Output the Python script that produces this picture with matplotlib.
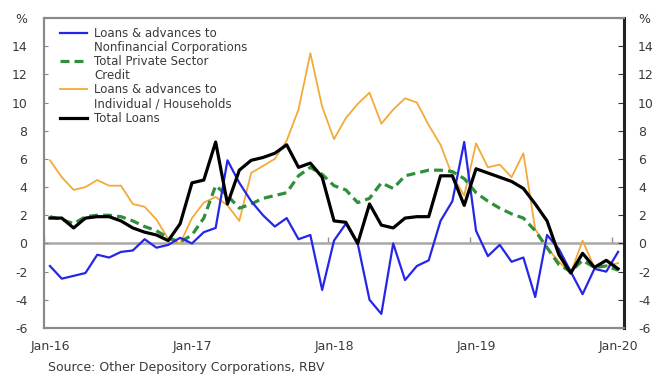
import matplotlib
matplotlib.use("Agg")
import matplotlib.pyplot as plt
from matplotlib.lines import Line2D
import numpy as np
import pandas as pd

# Monthly observations, Jan-2016 .. Jan-2020 (year-on-year growth, %)
months = pd.date_range("2016-01-01", periods=49, freq="MS")

nfc_loans = [-1.6, -2.5, -2.3, -2.1, -0.8, -1.0, -0.6, -0.5, 0.3, -0.3,
             -0.1, 0.4, 0.0, 0.8, 1.1, 5.9, 4.3, 3.0, 2.0, 1.2,
             1.8, 0.3, 0.6, -3.3, 0.2, 1.4, 0.0, -4.0, -5.0, 0.0,
             -2.6, -1.6, -1.2, 1.6, 3.0, 7.2, 0.9, -0.9, -0.1, -1.3,
             -1.0, -3.8, 0.6, -0.4, -2.0, -3.6, -1.8, -2.0, -0.6]

private_credit = [1.9, 1.7, 1.4, 1.9, 2.0, 2.0, 1.9, 1.6, 1.2, 0.9,
                  0.4, 0.1, 0.6, 1.8, 4.1, 3.4, 2.5, 2.8, 3.2, 3.4,
                  3.6, 4.8, 5.4, 4.9, 4.1, 3.8, 2.9, 3.2, 4.3, 3.9,
                  4.8, 5.0, 5.2, 5.2, 5.1, 4.6, 3.6, 3.0, 2.5, 2.1,
                  1.8, 0.9, -0.3, -1.5, -2.0, -1.2, -1.7, -1.6, -1.9]

household_loans = [5.9, 4.7, 3.8, 4.0, 4.5, 4.1, 4.1, 2.8, 2.6, 1.7,
                   0.3, 0.0, 1.8, 2.9, 3.3, 2.7, 1.6, 5.0, 5.5, 6.0,
                   7.3, 9.5, 13.5, 9.7, 7.4, 8.9, 9.9, 10.7, 8.5, 9.5,
                   10.3, 10.0, 8.4, 7.0, 4.8, 3.4, 7.1, 5.4, 5.6, 4.7,
                   6.4, 1.0, -0.3, -1.3, -2.1, 0.2, -1.7, -1.6, -1.4]

total_loans = [1.8, 1.8, 1.1, 1.8, 1.9, 1.9, 1.6, 1.1, 0.8, 0.6,
               0.2, 1.4, 4.3, 4.5, 7.2, 2.8, 5.2, 5.9, 6.1, 6.4,
               7.0, 5.4, 5.7, 4.7, 1.6, 1.5, 0.0, 2.8, 1.3, 1.1,
               1.8, 1.9, 1.9, 4.8, 4.8, 2.7, 5.3, 5.0, 4.7, 4.4,
               3.9, 2.8, 1.6, -0.8, -2.1, -0.7, -1.7, -1.2, -1.8]

y_ticks = [-6, -4, -2, 0, 2, 4, 6, 8, 10, 12, 14, 16]
y_tick_labels = ["-6", "-4", "-2", "0", "2", "4", "6", "8", "10", "12", "14", "%"]

source_note = "Source: Other Depository Corporations, RBV"

plt.rcParams["font.family"] = ["DejaVu Sans"]
text_color = "#3a3a3a"

fig = plt.figure(figsize=(6.62, 3.78), dpi=100)
ax = fig.add_axes([0.0665, 0.1323, 0.8761, 0.8201])

x = np.arange(len(months))

ax.plot(x, nfc_loans, color="#2626e6", lw=1.6, zorder=4)
ax.plot(x, private_credit, color="#2f8f3a", lw=2.3,
        linestyle=(0, (2.8, 1.6)), zorder=3)
ax.plot(x, household_loans, color="#f2aa3a", lw=1.3, zorder=2)
ax.plot(x, total_loans, color="black", lw=2.3, zorder=5)

ax.set_xlim(-0.5, 48.5)
ax.set_ylim(-6, 16)

# Year labels centred on January; ticks sit on category boundaries
jan_idx = [i for i, d in enumerate(months) if d.month == 1]
year_labels = [d.strftime("%b-%y") for d in months if d.month == 1]
ax.set_xticks(jan_idx)
ax.set_xticklabels(year_labels, fontsize=9, color=text_color)
ax.tick_params(axis="x", length=0, pad=9)

# Zero line with small year ticks on it
zero_axis = ax.secondary_xaxis(6 / 22)
zero_axis.set_xticks([i - 0.5 for i in jan_idx])
zero_axis.set_xticklabels([])
zero_axis.tick_params(direction="in", length=4, color="#909090", width=1)
zero_axis.spines["bottom"].set_color("#a8a8a8")
zero_axis.spines["bottom"].set_linewidth(1.8)

ax.set_yticks(y_ticks)
ax.set_yticklabels(y_tick_labels, fontsize=9, color=text_color)
ax.tick_params(axis="y", direction="in", length=3, color="#888888", pad=12)

ax2 = ax.twinx()
ax2.set_ylim(ax.get_ylim())
ax2.set_yticks(y_ticks)
ax2.set_yticklabels(y_tick_labels, fontsize=9, color=text_color)
ax2.tick_params(axis="y", direction="in", length=4, color="#333333", pad=10)

for a in (ax, ax2):
    for side in ("top", "left", "bottom"):
        a.spines[side].set_color("#8a8a8a")
        a.spines[side].set_linewidth(1.5)
ax2.spines["right"].set_color("#222222")
ax2.spines["right"].set_linewidth(2.2)

# Legend with wrapped labels; continuation rows carry no handle
blank = Line2D([], [], color="none")
handles = [
    Line2D([], [], color="#2626e6", lw=1.6), blank,
    Line2D([], [], color="#2f8f3a", lw=2.3, linestyle=(0, (2.8, 1.6))), blank,
    Line2D([], [], color="#f2aa3a", lw=1.3), blank,
    Line2D([], [], color="black", lw=2.3),
]
labels = ["Loans & advances to", "Nonfinancial Corporations",
          "Total Private Sector", "Credit",
          "Loans & advances to", "Individual / Households",
          "Total Loans"]
leg = ax.legend(handles, labels, loc="upper left",
                bbox_to_anchor=(0.028, 0.972), frameon=False,
                fontsize=8.5, labelspacing=0.1, handlelength=2.3,
                handletextpad=0.6, borderpad=0, borderaxespad=0)
for t in leg.get_texts():
    t.set_color(text_color)

fig.text(0.073, 0.018, source_note, fontsize=9, color=text_color)

fig.savefig("out.png", dpi=100)
